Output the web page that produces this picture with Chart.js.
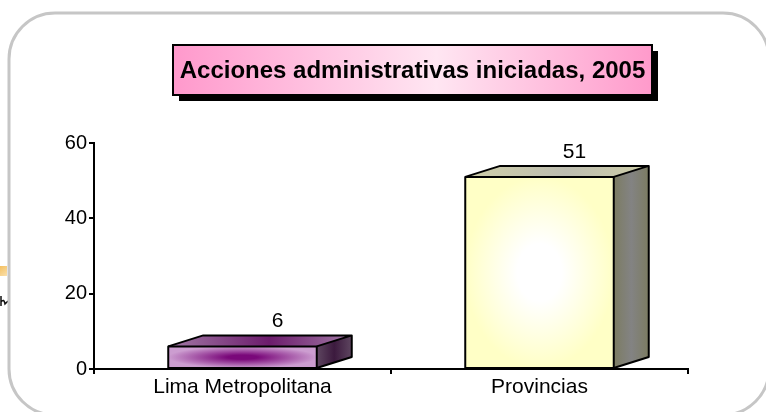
<!DOCTYPE html>
<html>
<head>
<meta charset="utf-8">
<script src="https://cdn.jsdelivr.net/npm/chart.js@4"></script>
<style>
  html, body { margin: 0; padding: 0; background: #fff; }
  #wrap { width: 766px; height: 412px; }
</style>
</head>
<body>
<div id="wrap"><canvas id="myChart" width="766" height="412"></canvas></div>
<script>
// datos del gráfico
const categories = ['Lima Metropolitana', 'Provincias'];
const values = [6, 51];
const yTicks = [0, 20, 40, 60];
const titleText = 'Acciones administrativas iniciadas, 2005';

// colores de cada barra (frente, tapa, lado)
const faceColors = [
    { frontEdge: '#cc9dd0', frontMid: '#7a087a', topEdge: '#a27aa6', topMid: '#6c1c6c', sideEdge: '#5e4660', sideMid: '#3c1a3e' },
    { frontEdge: '#ffffc6', frontMid: '#ffffff', topEdge: '#cfcfa8', topMid: '#bdbdb0', sideEdge: '#7c7c62', sideMid: '#838383' },
];

const DEPTH_X = 35;
const DEPTH_Y = 11;
const FONT = '"Liberation Sans", Arial, sans-serif';

// marco redondeado, título y recorte de la izquierda
const framePlugin = {
    id: 'frame',
    beforeDraw(chart) {
        const ctx = chart.ctx;
        ctx.save();
        ctx.fillStyle = '#fff';
        ctx.fillRect(0, 0, chart.width, chart.height);
        // restos de la imagen de al lado
        const g = ctx.createLinearGradient(0, 266, 8, 276);
        g.addColorStop(0, '#f4c060');
        g.addColorStop(1, '#fbe2b0');
        ctx.fillStyle = g;
        ctx.fillRect(0, 266, 7, 10);
        ctx.strokeStyle = '#111';
        ctx.lineWidth = 1.5;
        ctx.beginPath();
        ctx.moveTo(1, 296);
        ctx.lineTo(1, 306);
        ctx.moveTo(1, 302);
        ctx.quadraticCurveTo(4, 298, 5, 304);
        ctx.lineTo(8, 301);
        ctx.stroke();
        // marco
        ctx.strokeStyle = '#c6c6c6';
        ctx.lineWidth = 3;
        ctx.beginPath();
        ctx.roundRect(9, 13, 760, 402, 46);
        ctx.stroke();
        ctx.restore();
    },
    afterDraw(chart) {
        const ctx = chart.ctx;
        const bx = 173, by = 45, bw = 479, bh = 50;
        ctx.save();
        ctx.fillStyle = '#000';
        ctx.fillRect(bx + 6, by + 6, bw, bh);
        const g = ctx.createLinearGradient(bx, 0, bx + bw, 0);
        g.addColorStop(0, '#ff99cc');
        g.addColorStop(0.55, '#ffe6f2');
        g.addColorStop(1, '#ff9acb');
        ctx.fillStyle = g;
        ctx.fillRect(bx, by, bw, bh);
        ctx.strokeStyle = '#000';
        ctx.lineWidth = 2;
        ctx.strokeRect(bx, by, bw, bh);
        ctx.fillStyle = '#000';
        ctx.font = 'bold 24px ' + FONT;
        ctx.textAlign = 'center';
        ctx.textBaseline = 'middle';
        ctx.fillText(titleText, bx + bw / 2, by + bh / 2 + 1);
        ctx.restore();
    },
};

// barras en 3D a partir de la geometría calculada por Chart.js
const bars3dPlugin = {
    id: 'bars3d',
    afterDatasetsDraw(chart) {
        const ctx = chart.ctx;
        const meta = chart.getDatasetMeta(0);
        meta.data.forEach((bar, i) => {
            const { x, y, base, width } = bar.getProps(['x', 'y', 'base', 'width'], true);
            const c = faceColors[i];
            const l = x - width / 2, r = x + width / 2;
            const h = base - y;
            ctx.save();
            ctx.lineJoin = 'round';

            // frente
            ctx.save();
            ctx.beginPath();
            ctx.rect(l, y, width, h);
            ctx.clip();
            ctx.translate(x, y + h / 2);
            const sy = Math.max(h, 1) / width;
            ctx.scale(1, sy);
            const fg = ctx.createRadialGradient(0, 0, 0, 0, 0, width / 2);
            fg.addColorStop(0, c.frontMid);
            fg.addColorStop(i === 0 ? 0.2 : 0.3, c.frontMid);
            fg.addColorStop(1, c.frontEdge);
            ctx.fillStyle = fg;
            ctx.fillRect(-width, -width, width * 2, width * 2);
            ctx.restore();

            // tapa
            const tg = ctx.createLinearGradient(l, 0, r + DEPTH_X, 0);
            tg.addColorStop(0, c.topEdge);
            tg.addColorStop(0.55, c.topMid);
            tg.addColorStop(1, c.topEdge);
            ctx.fillStyle = tg;
            ctx.beginPath();
            ctx.moveTo(l, y);
            ctx.lineTo(l + DEPTH_X, y - DEPTH_Y);
            ctx.lineTo(r + DEPTH_X, y - DEPTH_Y);
            ctx.lineTo(r, y);
            ctx.closePath();
            ctx.fill();

            // lado
            const sg = ctx.createLinearGradient(r, 0, r + DEPTH_X, 0);
            sg.addColorStop(0, c.sideEdge);
            sg.addColorStop(0.5, c.sideMid);
            sg.addColorStop(1, c.sideEdge);
            ctx.fillStyle = sg;
            ctx.beginPath();
            ctx.moveTo(r, y);
            ctx.lineTo(r + DEPTH_X, y - DEPTH_Y);
            ctx.lineTo(r + DEPTH_X, base - DEPTH_Y);
            ctx.lineTo(r, base);
            ctx.closePath();
            ctx.fill();

            // contornos
            ctx.strokeStyle = '#000';
            ctx.lineWidth = 2;
            ctx.strokeRect(l, y, width, h);
            ctx.beginPath();
            ctx.moveTo(l, y);
            ctx.lineTo(l + DEPTH_X, y - DEPTH_Y);
            ctx.lineTo(r + DEPTH_X, y - DEPTH_Y);
            ctx.lineTo(r + DEPTH_X, base - DEPTH_Y);
            ctx.lineTo(r, base);
            ctx.moveTo(r, y);
            ctx.lineTo(r + DEPTH_X, y - DEPTH_Y);
            ctx.stroke();

            // etiqueta de valor
            ctx.fillStyle = '#000';
            ctx.font = '21px ' + FONT;
            ctx.textAlign = 'center';
            ctx.textBaseline = 'middle';
            ctx.fillText(String(values[i]), x + DEPTH_X, y - DEPTH_Y - 14);
            ctx.restore();
        });
    },
};

var ctx = document.getElementById('myChart').getContext('2d');

var myChart = new Chart(ctx, {
    type: 'bar',
    data: {
        labels: categories,
        datasets: [{
            data: values,
            backgroundColor: 'rgba(0,0,0,0)',
            borderWidth: 0,
            barPercentage: 0.5,
            categoryPercentage: 1,
        }],
    },
    options: {
        responsive: false,
        animation: false,
        events: [],
        layout: { padding: { top: 143, right: 78, bottom: 0, left: 0 } },
        plugins: {
            legend: { display: false },
            title: { display: false },
            tooltip: { enabled: false },
        },
        scales: {
            x: {
                grid: { drawOnChartArea: false, drawTicks: true, tickLength: 5, color: '#000', lineWidth: 2, offset: true },
                border: { color: '#000', width: 2 },
                ticks: { color: '#000', font: { family: FONT, size: 21 }, padding: 1, maxRotation: 0 },
                afterFit(scale) { scale.height = 43; },
            },
            y: {
                min: 0,
                max: 60,
                grid: { drawOnChartArea: false, drawTicks: true, tickLength: 5, color: '#000', lineWidth: 2 },
                border: { color: '#000', width: 2 },
                ticks: { color: '#000', font: { family: FONT, size: 20 }, padding: 2 },
                afterBuildTicks(scale) { scale.ticks = yTicks.map(v => ({ value: v })); },
                afterFit(scale) { scale.width = 94; },
            },
        },
    },
    plugins: [framePlugin, bars3dPlugin],
});
</script>
</body>
</html>
